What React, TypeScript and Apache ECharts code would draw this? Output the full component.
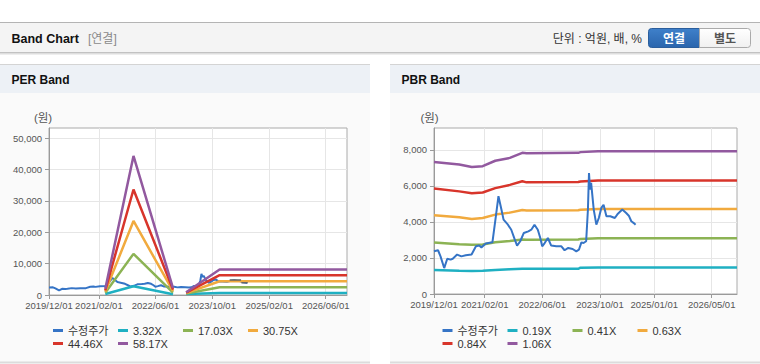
import React, { useEffect, useRef } from 'react';
import * as echarts from 'echarts';

const FONT = 'Arial, "Liberation Sans", "Noto Sans CJK KR", sans-serif';

const xTicksPER = ['2019-12-01', '2021-02-01', '2022-06-01', '2023-10-01', '2025-02-01', '2026-06-01'];
const xTicksPBR = ['2019-12-01', '2021-02-01', '2022-06-01', '2023-10-01', '2025-01-01', '2026-05-01'];
const yTicksPER = [0, 10000, 20000, 30000, 40000, 50000];
const yTicksPBR = [0, 2000, 4000, 6000, 8000];

const priceDates = [
  '2019-12-01', '2020-01-04', '2020-01-25', '2020-02-25', '2020-03-22', '2020-04-19', '2020-05-07', '2020-06-13',
  '2020-07-19', '2020-08-25', '2020-10-13', '2020-11-19', '2020-12-16', '2021-01-04', '2021-02-10', '2021-04-07',
  '2021-05-04', '2021-05-28', '2021-06-22', '2021-07-10', '2021-08-16', '2021-09-13', '2021-10-13', '2021-11-01',
  '2021-11-28', '2021-12-28', '2022-02-04', '2022-03-01', '2022-03-28', '2022-04-25', '2022-05-16', '2022-06-01',
  '2022-06-22', '2022-07-19', '2022-08-16', '2022-09-28', '2022-11-10', '2022-12-07', '2023-01-07', '2023-02-13',
  '2023-03-16', '2023-04-07', '2023-04-28', '2023-05-16', '2023-06-07', '2023-06-22', '2023-07-01', '2023-07-10',
  '2023-07-19', '2023-08-10', '2023-09-01', '2023-09-22', '2023-10-13', '2023-11-01', '2023-11-25', '2023-12-28',
  '2024-02-04', '2024-03-01', '2024-04-07', '2024-05-10', '2024-06-01', '2024-06-22', '2024-07-19', '2024-07-28',
];
const priceValues = [
  2370, 2430, 2090, 1440, 1960, 1910, 1960, 2190,
  2090, 2150, 2190, 2650, 2690, 2590, 2800, 2870,
  4220, 5430, 4690, 4130, 3850, 3570, 3020, 2690,
  2930, 3390, 3480, 3570, 3850, 3570, 3110, 2650,
  2830, 3110, 2690, 2650, 2650, 2430, 2560, 2500,
  2370, 2460, 2870, 2830, 2930, 4690, 6720, 5800,
  6170, 4690, 3850, 4220, 4780, 4960, 4320, 4320,
  4220, 4460, 4690, 4500, 4350, 4040, 3910, 3850,
];

// PER chart: tail of the price line drawn in dark grey over the bands
const perTailDates = ['2024-02-28', '2024-06-05', '2024-06-06', '2024-06-08', '2024-08-01'];
const perTailValues = [4750, 4750, null, 3940, 3940];

// PER bands
const perBandDates = ['2021-03-28', '2021-11-25', '2022-10-30', '2023-01-01', '2023-02-20', '2023-12-04', '2026-12-01'];
const per332 = [300, 2800, 250, null, 300, 600, 600];
const per1703 = [700, 13100, 750, null, 450, 2450, 2450];
const per3075 = [1100, 23600, 1200, null, 600, 4380, 4380];
const per4446 = [1500, 33600, 1700, null, 750, 6300, 6300];
const per5817 = [2000, 44300, 2200, null, 850, 8150, 8150];

// PBR bands
const pbrBandDates = ['2019-12-01', '2020-07-01', '2020-10-15', '2021-01-15', '2021-05-01', '2021-09-01', '2021-12-15',
  '2022-01-20', '2023-04-01', '2023-04-20', '2023-09-15', '2026-12-01'];
const pbr019 = [1330, 1290, 1280, 1285, 1330, 1370, 1400, 1400, 1400, 1460, 1470, 1470];
const pbr041 = [2860, 2760, 2730, 2750, 2870, 2940, 3030, 3020, 3030, 3060, 3090, 3090];
const pbr063 = [4370, 4260, 4170, 4220, 4410, 4520, 4660, 4640, 4650, 4680, 4720, 4720];
const pbr084 = [5860, 5700, 5590, 5640, 5880, 6060, 6260, 6200, 6220, 6250, 6310, 6310];
const pbr106 = [7330, 7190, 7050, 7100, 7400, 7560, 7840, 7820, 7840, 7880, 7930, 7930];

const perLegend = ['수정주가', '3.32X', '17.03X', '30.75X', '44.46X', '58.17X'];
const pbrLegend = ['수정주가', '0.19X', '0.41X', '0.63X', '0.84X', '1.06X'];

const C = {
  price: '#3574c6',
  cyan: '#1fb0c2',
  green: '#8cb354',
  orange: '#f1aa3e',
  red: '#d8352b',
  purple: '#92599f',
};

const ts = (s: string) => {
  const [y, m, d] = s.split('-').map(Number);
  return new Date(y, m - 1, d).getTime();
};
const pair = (d: string[], v: (number | null)[]) => d.map((x, i) => [ts(x), v[i]]);
const p2 = (n: number) => String(n).padStart(2, '0');
const fmtDate = (v: number) => {
  const d = new Date(v);
  return `${d.getFullYear()}/${p2(d.getMonth() + 1)}/${p2(d.getDate())}`;
};
const fmtNum = (v: number) => Number(v).toLocaleString('en-US');

const xAxisOf = (gridIndex: number, ticks: string[]) => ({
  type: 'value',
  gridIndex,
  min: ts('2019-12-01'),
  max: ts('2026-12-01'),
  axisLine: { show: true, lineStyle: { color: '#9a9a9a' } },
  axisTick: { show: true, length: 4, lineStyle: { color: '#9a9a9a' }, customValues: ticks.map(ts) },
  axisLabel: {
    customValues: ticks.map(ts),
    formatter: fmtDate,
    color: '#555',
    fontSize: 9.5,
    fontFamily: FONT,
    margin: 6,
  },
  splitLine: { show: true, lineStyle: { color: '#e6e6e6' } },
});

const yAxisOf = (gridIndex: number, max: number, ticks: number[], namePad: number) => ({
  type: 'value',
  gridIndex,
  min: 0,
  max,
  name: '(원)',
  nameLocation: 'end',
  nameGap: 4,
  nameTextStyle: { color: '#555', fontSize: 11.5, fontFamily: FONT, padding: [0, namePad, 0, 0] },
  axisLine: { show: true, lineStyle: { color: '#9a9a9a' } },
  axisTick: { show: true, length: 4, lineStyle: { color: '#9a9a9a' }, customValues: ticks },
  axisLabel: {
    customValues: ticks,
    formatter: fmtNum,
    color: '#555',
    fontSize: 9.5,
    fontFamily: FONT,
    margin: 7,
  },
  splitLine: { show: true, lineStyle: { color: '#e6e6e6' } },
});

const lineSeries = (name: string, gi: number, data: any[], color: string, width: number, z = 2) => ({
  name,
  type: 'line',
  xAxisIndex: gi,
  yAxisIndex: gi,
  data,
  symbol: 'none',
  showSymbol: false,
  silent: true,
  connectNulls: false,
  z,
  lineStyle: { color, width },
  itemStyle: { color },
});

const legendOf = (left: number, data: string[]) => ({
  left,
  top: 324,
  width: 262,
  padding: 0,
  itemGap: 0,
  itemWidth: 10,
  itemHeight: 3,
  icon: 'rect',
  selectedMode: false,
  data,
  textStyle: { color: '#333', fontSize: 11, fontFamily: FONT, width: 50, lineHeight: 13, padding: [0, 0, 0, 0] },
});

const txt = (text: string, x: number, y: number, opts: any = {}) => ({
  type: 'text',
  x,
  y,
  z: -1,
  silent: true,
  style: {
    text,
    fill: opts.fill || '#111',
    fontSize: opts.fontSize || 12,
    fontWeight: opts.fontWeight || 'normal',
    fontFamily: FONT,
    align: opts.align || 'left',
    textAlign: opts.align || 'left',
    verticalAlign: 'middle',
    textVerticalAlign: 'middle',
  },
});
const rect = (x: number, y: number, w: number, h: number, fill: any) => ({
  type: 'rect',
  z: -1,
  silent: true,
  shape: { x, y, width: w, height: h },
  style: { fill },
});

const panel = (x: number, title: string, gx: number, gy: number, gw: number, gh: number) => [
  rect(x, 64, 370, 299, '#fafafa'),
  rect(x, 64, 370, 1, '#d4d4d4'),
  rect(x, 65, 370, 28, '#edf1f6'),
  rect(x, 361.5, 370, 2, '#dcdcdc'),
  rect(gx, gy, gw, gh, '#ffffff'),
  txt(title, x + 11.5, 79.5, { fontWeight: 'bold', fontSize: 12 }),
];

const option: any = {
  animation: false,
  backgroundColor: '#ffffff',
  textStyle: { fontFamily: FONT },
  graphic: {
    elements: [
      rect(0, 22, 760, 31, '#f4f4f4'),
      rect(0, 22, 760, 1, '#b4b4b4'),
      rect(0, 52, 760, 1, '#c2c2c2'),
      rect(0, 53, 760, 1, '#dedede'),
      rect(0, 54, 760, 1, '#eeeeee'),
      txt('Band Chart', 11.5, 38.5, { fontWeight: 'bold', fontSize: 12.5 }),
      txt('[연결]', 88, 38.5, { fill: '#8a8a8a', fontSize: 12 }),
      txt('단위 : 억원, 배, %', 642, 38.5, { fill: '#333', fontSize: 12, align: 'right' }),
      {
        type: 'rect',
        z: -1,
        silent: true,
        shape: { x: 648.5, y: 28.5, width: 51, height: 19, r: [3, 0, 0, 3] },
        style: {
          fill: new echarts.graphic.LinearGradient(0, 0, 0, 1, [
            { offset: 0, color: '#3f80ca' },
            { offset: 1, color: '#2a65ad' },
          ]),
          stroke: '#2b5e9c',
          lineWidth: 1,
        },
      },
      {
        type: 'rect',
        z: -1,
        silent: true,
        shape: { x: 699.5, y: 28.5, width: 51, height: 19, r: [0, 3, 3, 0] },
        style: {
          fill: new echarts.graphic.LinearGradient(0, 0, 0, 1, [
            { offset: 0, color: '#ffffff' },
            { offset: 1, color: '#f0f0f0' },
          ]),
          stroke: '#aaaaaa',
          lineWidth: 1,
        },
      },
      txt('연결', 674, 38.5, { fill: '#ffffff', fontWeight: 'bold', fontSize: 12, align: 'center' }),
      txt('별도', 725, 38.5, { fill: '#555', fontWeight: 'bold', fontSize: 12, align: 'center' }),
      ...panel(0, 'PER Band', 49, 128, 298, 167),
      ...panel(390, 'PBR Band', 434, 128, 303, 166),
    ],
  },
  grid: [
    { left: 49, top: 128, width: 298, height: 167, show: true, borderColor: '#aaaaaa', backgroundColor: 'transparent' },
    { left: 434, top: 128, width: 303, height: 166, show: true, borderColor: '#aaaaaa', backgroundColor: 'transparent' },
  ],
  xAxis: [xAxisOf(0, xTicksPER), xAxisOf(1, xTicksPBR)],
  yAxis: [yAxisOf(0, 53200, yTicksPER, 12), yAxisOf(1, 9220, yTicksPBR, 9)],
  legend: [legendOf(53, perLegend), legendOf(442.5, pbrLegend)],
  series: [
    lineSeries('수정주가', 0, pair(priceDates, priceValues), C.price, 2),
    lineSeries('3.32X', 0, pair(perBandDates, per332), C.cyan, 2.5),
    lineSeries('17.03X', 0, pair(perBandDates, per1703), C.green, 2.5),
    lineSeries('30.75X', 0, pair(perBandDates, per3075), C.orange, 2.5),
    lineSeries('44.46X', 0, pair(perBandDates, per4446), C.red, 2.5),
    lineSeries('58.17X', 0, pair(perBandDates, per5817), C.purple, 2.5),
    lineSeries('수정주가 ', 0, pair(perTailDates, perTailValues), '#666666', 1.5),
    lineSeries('0.19X', 1, pair(pbrBandDates, pbr019), C.cyan, 2.5),
    lineSeries('0.41X', 1, pair(pbrBandDates, pbr041), C.green, 2.5),
    lineSeries('0.63X', 1, pair(pbrBandDates, pbr063), C.orange, 2.5),
    lineSeries('0.84X', 1, pair(pbrBandDates, pbr084), C.red, 2.5),
    lineSeries('1.06X', 1, pair(pbrBandDates, pbr106), C.purple, 2.5),
    lineSeries('수정주가', 1, pair(priceDates, priceValues), C.price, 2, 3),
  ],
};

export default function App() {
  const ref = useRef<HTMLDivElement>(null);
  useEffect(() => {
    const chart = echarts.init(ref.current as HTMLDivElement, null, { renderer: 'svg' });
    chart.setOption(option);
    return () => chart.dispose();
  }, []);
  return (
    <div
      ref={ref}
      style={{ position: 'absolute', left: 0, top: 0, width: 760, height: 364, background: '#fff' }}
    />
  );
}
